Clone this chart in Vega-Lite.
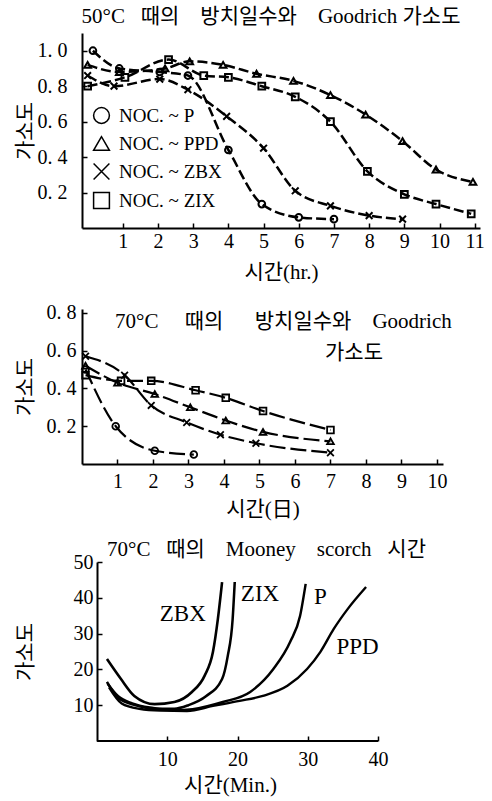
{
  "$schema": "https://vega.github.io/schema/vega-lite/v6.json",
  "background": "white",
  "padding": {"left": 14, "right": 2, "top": 6, "bottom": 2},
  "config": {
    "font": "'Liberation Serif', 'Noto Sans CJK KR', serif",
    "view": {"stroke": null},
    "axis": {
      "grid": false,
      "domainColor": "black",
      "domainWidth": 2,
      "tickColor": "black",
      "tickWidth": 1.5,
      "tickSize": -5,
      "labelColor": "black",
      "labelFontSize": 20,
      "labelFlush": false,
      "labelOverlap": false,
      "titleColor": "black",
      "titleFontSize": 21,
      "titleFontWeight": "normal"
    },
    "title": {"fontSize": 21, "fontWeight": "normal", "color": "black"}
  },
  "datasets": {
    "hr50": [
      {"series": "P", "t": 0.15, "v": 1.0},
      {"series": "P", "t": 0.9, "v": 0.9},
      {"series": "P", "t": 2.05, "v": 0.88},
      {"series": "P", "t": 2.85, "v": 0.86},
      {"series": "P", "t": 4.0, "v": 0.44},
      {"series": "P", "t": 4.95, "v": 0.135},
      {"series": "P", "t": 6.0, "v": 0.06},
      {"series": "P", "t": 7.0, "v": 0.05},
      {"series": "PPD", "t": 0.0, "v": 0.92},
      {"series": "PPD", "t": 0.9, "v": 0.88},
      {"series": "PPD", "t": 2.2, "v": 0.9},
      {"series": "PPD", "t": 2.9, "v": 0.94},
      {"series": "PPD", "t": 3.85, "v": 0.92},
      {"series": "PPD", "t": 4.8, "v": 0.87},
      {"series": "PPD", "t": 5.85, "v": 0.83},
      {"series": "PPD", "t": 6.9, "v": 0.75},
      {"series": "PPD", "t": 7.9, "v": 0.64},
      {"series": "PPD", "t": 8.95, "v": 0.49},
      {"series": "PPD", "t": 9.9, "v": 0.33},
      {"series": "PPD", "t": 10.95, "v": 0.26},
      {"series": "ZBX", "t": 0.0, "v": 0.86},
      {"series": "ZBX", "t": 0.75, "v": 0.8},
      {"series": "ZBX", "t": 2.05, "v": 0.84},
      {"series": "ZBX", "t": 2.85, "v": 0.78},
      {"series": "ZBX", "t": 3.95, "v": 0.63},
      {"series": "ZBX", "t": 5.0, "v": 0.45},
      {"series": "ZBX", "t": 5.9, "v": 0.21},
      {"series": "ZBX", "t": 6.9, "v": 0.125},
      {"series": "ZBX", "t": 8.0, "v": 0.07},
      {"series": "ZBX", "t": 8.95, "v": 0.05},
      {"series": "ZIX", "t": 0.0, "v": 0.8},
      {"series": "ZIX", "t": 1.06, "v": 0.85},
      {"series": "ZIX", "t": 2.3, "v": 0.95},
      {"series": "ZIX", "t": 3.3, "v": 0.86},
      {"series": "ZIX", "t": 4.0, "v": 0.85},
      {"series": "ZIX", "t": 4.95, "v": 0.8},
      {"series": "ZIX", "t": 5.9, "v": 0.74},
      {"series": "ZIX", "t": 6.9, "v": 0.6},
      {"series": "ZIX", "t": 7.95, "v": 0.32},
      {"series": "ZIX", "t": 9.0, "v": 0.19},
      {"series": "ZIX", "t": 9.9, "v": 0.135},
      {"series": "ZIX", "t": 10.9, "v": 0.08}
    ],
    "day70": [
      {"series": "P", "t": 0.1, "v": 0.5},
      {"series": "P", "t": 0.95, "v": 0.2},
      {"series": "P", "t": 2.05, "v": 0.07},
      {"series": "P", "t": 3.15, "v": 0.05},
      {"series": "PPD", "t": 0.1, "v": 0.52},
      {"series": "PPD", "t": 1.0, "v": 0.43},
      {"series": "PPD", "t": 2.05, "v": 0.37},
      {"series": "PPD", "t": 3.05, "v": 0.3},
      {"series": "PPD", "t": 4.05, "v": 0.23},
      {"series": "PPD", "t": 5.1, "v": 0.17},
      {"series": "PPD", "t": 7.0, "v": 0.12},
      {"series": "ZBX", "t": 0.1, "v": 0.57},
      {"series": "ZBX", "t": 1.2, "v": 0.47},
      {"series": "ZBX", "t": 1.95, "v": 0.31},
      {"series": "ZBX", "t": 2.95, "v": 0.22},
      {"series": "ZBX", "t": 3.9, "v": 0.155},
      {"series": "ZBX", "t": 4.9, "v": 0.11},
      {"series": "ZBX", "t": 7.0, "v": 0.06},
      {"series": "ZIX", "t": 0.1, "v": 0.47},
      {"series": "ZIX", "t": 1.1, "v": 0.44},
      {"series": "ZIX", "t": 1.95, "v": 0.44},
      {"series": "ZIX", "t": 3.2, "v": 0.39},
      {"series": "ZIX", "t": 4.05, "v": 0.35},
      {"series": "ZIX", "t": 5.1, "v": 0.28},
      {"series": "ZIX", "t": 7.0, "v": 0.18}
    ],
    "scorch": [
      {"series": "ZBX", "t": 1.4, "v": 22.9},
      {"series": "ZBX", "t": 3.4, "v": 17.3},
      {"series": "ZBX", "t": 5.3, "v": 12.6},
      {"series": "ZBX", "t": 8.2, "v": 10.3},
      {"series": "ZBX", "t": 11.0, "v": 10.9},
      {"series": "ZBX", "t": 13.5, "v": 13.7},
      {"series": "ZBX", "t": 15.3, "v": 18.2},
      {"series": "ZBX", "t": 16.5, "v": 24.9},
      {"series": "ZBX", "t": 17.2, "v": 34.1},
      {"series": "ZBX", "t": 17.8, "v": 44.4},
      {"series": "ZIX", "t": 1.4, "v": 16.5},
      {"series": "ZIX", "t": 3.0, "v": 12.0},
      {"series": "ZIX", "t": 5.5, "v": 10.0},
      {"series": "ZIX", "t": 8.5, "v": 9.0},
      {"series": "ZIX", "t": 11.0, "v": 9.0},
      {"series": "ZIX", "t": 13.0, "v": 10.0},
      {"series": "ZIX", "t": 15.5, "v": 12.5},
      {"series": "ZIX", "t": 17.8, "v": 17.3},
      {"series": "ZIX", "t": 18.6, "v": 23.7},
      {"series": "ZIX", "t": 19.3, "v": 34.0},
      {"series": "ZIX", "t": 19.6, "v": 44.4},
      {"series": "P", "t": 1.5, "v": 16.0},
      {"series": "P", "t": 3.0, "v": 12.5},
      {"series": "P", "t": 5.0, "v": 10.5},
      {"series": "P", "t": 8.0, "v": 9.2},
      {"series": "P", "t": 11.0, "v": 8.6},
      {"series": "P", "t": 13.6, "v": 8.9},
      {"series": "P", "t": 17.9, "v": 10.9},
      {"series": "P", "t": 21.8, "v": 13.7},
      {"series": "P", "t": 25.1, "v": 20.1},
      {"series": "P", "t": 27.5, "v": 27.7},
      {"series": "P", "t": 28.9, "v": 34.9},
      {"series": "P", "t": 29.7, "v": 43.9},
      {"series": "PPD", "t": 1.7, "v": 15.0},
      {"series": "PPD", "t": 3.5, "v": 10.5},
      {"series": "PPD", "t": 6.0, "v": 9.0},
      {"series": "PPD", "t": 9.0, "v": 8.5},
      {"series": "PPD", "t": 12.8, "v": 8.4},
      {"series": "PPD", "t": 16.5, "v": 9.8},
      {"series": "PPD", "t": 20.3, "v": 11.2},
      {"series": "PPD", "t": 23.6, "v": 12.6},
      {"series": "PPD", "t": 27.1, "v": 15.4},
      {"series": "PPD", "t": 29.9, "v": 20.1},
      {"series": "PPD", "t": 31.8, "v": 24.9},
      {"series": "PPD", "t": 33.7, "v": 31.3},
      {"series": "PPD", "t": 35.7, "v": 36.9},
      {"series": "PPD", "t": 38.3, "v": 43.0}
    ],
    "scorchLabels": [
      {"series": "ZBX", "t": 12.2, "v": 35.5},
      {"series": "ZIX", "t": 23.2, "v": 41.0},
      {"series": "P", "t": 31.8, "v": 40.2},
      {"series": "PPD", "t": 37.1, "v": 26.3}
    ],
    "minuteAxis": [
      {"from": 0, "to": 40, "level": 0}
    ]
  },
  "columns": 1,
  "spacing": 20,
  "concat": [
    {
      "width": 398,
      "height": 195,
      "title": {"text": "50°C\u00a0\u00a0 때의\u00a0\u00a0\u00a0 방치일수와\u00a0\u00a0\u00a0 Goodrich\u00a0가소도", "anchor": "middle", "frame": "group", "offset": 6, "dx": -10},
      "data": {"name": "hr50"},
      "encoding": {
        "x": {
          "field": "t", "type": "quantitative",
          "scale": {"domain": [-0.16, 11.15], "nice": false, "zero": false},
          "axis": {"values": [1, 2, 3, 4, 5, 6, 7, 8, 9, 10, 11], "format": "d", "title": "시간(hr.)", "labelPadding": 8, "titlePadding": 10}
        },
        "y": {
          "field": "v", "type": "quantitative",
          "scale": {"domain": [0, 1.1], "nice": false},
          "axis": {"values": [0.2, 0.4, 0.6, 0.8, 1.0], "format": ".1f", "labelExpr": "replace(datum.label, '.', '. ')", "title": "가소도", "labelPadding": 20, "titlePadding": 2}
        }
      },
      "layer": [
        {
          "mark": {"type": "line", "interpolate": "monotone", "color": "black", "strokeWidth": 2.5, "strokeDash": [10, 4]},
          "encoding": {"detail": {"field": "series"}}
        },
        {
          "mark": {"type": "point", "filled": false, "color": "black", "strokeWidth": 2, "size": 45, "opacity": 1},
          "encoding": {
            "shape": {
              "field": "series", "type": "nominal",
              "scale": {"domain": ["P", "PPD", "ZBX", "ZIX"], "range": ["circle", "triangle-up", "M-1,-1L1,1M-1,1L1,-1", "square"]},
              "legend": {
                "title": null,
                "orient": "none",
                "legendX": 10,
                "legendY": 73,
                "labelExpr": "'NOC. ~ ' + datum.label",
                "labelFontSize": 19,
                "labelColor": "black",
                "labelOffset": 8,
                "rowPadding": 6,
                "symbolSize": 250,
                "symbolStrokeWidth": 1.5,
                "symbolStrokeColor": "black",
                "symbolFillColor": "transparent"
              }
            }
          }
        }
      ]
    },
    {
      "width": 361,
      "height": 155,
      "title": {
        "text": ["70°C\u00a0\u00a0\u00a0\u00a0 때의\u00a0\u00a0\u00a0\u00a0\u00a0 방치일수와\u00a0\u00a0\u00a0 Goodrich", "\u200b\u3000\u3000\u3000\u3000\u3000\u3000\u3000\u3000\u3000\u3000가소도"],
        "anchor": "start",
        "frame": "group",
        "align": "left",
        "lineHeight": 31,
        "offset": -60,
        "dx": 33
      },
      "data": {"name": "day70"},
      "encoding": {
        "x": {
          "field": "t", "type": "quantitative",
          "scale": {"domain": [0, 10.17], "nice": false, "zero": false},
          "axis": {"values": [1, 2, 3, 4, 5, 6, 7, 8, 9, 10], "format": "d", "title": "시간(日)", "labelPadding": 12, "titlePadding": 7}
        },
        "y": {
          "field": "v", "type": "quantitative",
          "scale": {"domain": [0, 0.82], "nice": false},
          "axis": {"values": [0.2, 0.4, 0.6, 0.8], "format": ".1f", "labelExpr": "replace(datum.label, '.', '. ')", "title": "가소도", "labelPadding": 11, "titlePadding": 11}
        }
      },
      "layer": [
        {
          "mark": {"type": "line", "interpolate": "monotone", "color": "black", "strokeWidth": 2.2, "strokeDash": [16, 5]},
          "encoding": {"detail": {"field": "series"}}
        },
        {
          "mark": {"type": "point", "filled": false, "color": "black", "strokeWidth": 1.8, "size": 45, "opacity": 1},
          "encoding": {
            "shape": {
              "field": "series", "type": "nominal",
              "scale": {"domain": ["P", "PPD", "ZBX", "ZIX"], "range": ["circle", "triangle-up", "M-1,-1L1,1M-1,1L1,-1", "square"]},
              "legend": null
            }
          }
        }
      ]
    },
    {
      "width": 296,
      "height": 179,
      "title": {"text": "70°C\u00a0\u00a0 때의\u00a0\u00a0\u00a0 Mooney\u00a0\u00a0\u00a0 scorch\u00a0\u00a0 시간", "anchor": "start", "frame": "group", "dx": 25, "offset": -8},
      "encoding": {
        "x": {
          "field": "t", "type": "quantitative",
          "scale": {"domain": [-2.15, 40], "nice": false, "zero": false},
          "axis": {"values": [10, 20, 30, 40], "format": "d", "title": "시간(Min.)", "domain": false, "labelPadding": 13, "titlePadding": 5}
        },
        "y": {
          "field": "v", "type": "quantitative",
          "scale": {"domain": [0, 50], "nice": false},
          "axis": {"values": [10, 20, 30, 40, 50], "format": "d", "title": "가소도", "offset": -15, "labelPadding": 9, "titlePadding": 38}
        }
      },
      "layer": [
        {
          "data": {"name": "minuteAxis"},
          "mark": {"type": "rule", "color": "black", "strokeWidth": 2},
          "encoding": {
            "x": {"field": "from", "type": "quantitative"},
            "x2": {"field": "to"},
            "y": {"field": "level", "type": "quantitative"}
          }
        },
        {
          "data": {"name": "scorch"},
          "mark": {"type": "line", "interpolate": "monotone", "color": "black"},
          "encoding": {
            "detail": {"field": "series"},
            "strokeWidth": {
              "field": "series", "type": "nominal",
              "scale": {"domain": ["ZBX", "ZIX", "P", "PPD"], "range": [2.6, 2.4, 2.8, 1.6]},
              "legend": null
            }
          }
        },
        {
          "data": {"name": "scorchLabels"},
          "mark": {"type": "text", "fontSize": 23, "color": "black", "align": "center", "baseline": "middle"},
          "encoding": {"text": {"field": "series"}}
        }
      ]
    }
  ]
}
